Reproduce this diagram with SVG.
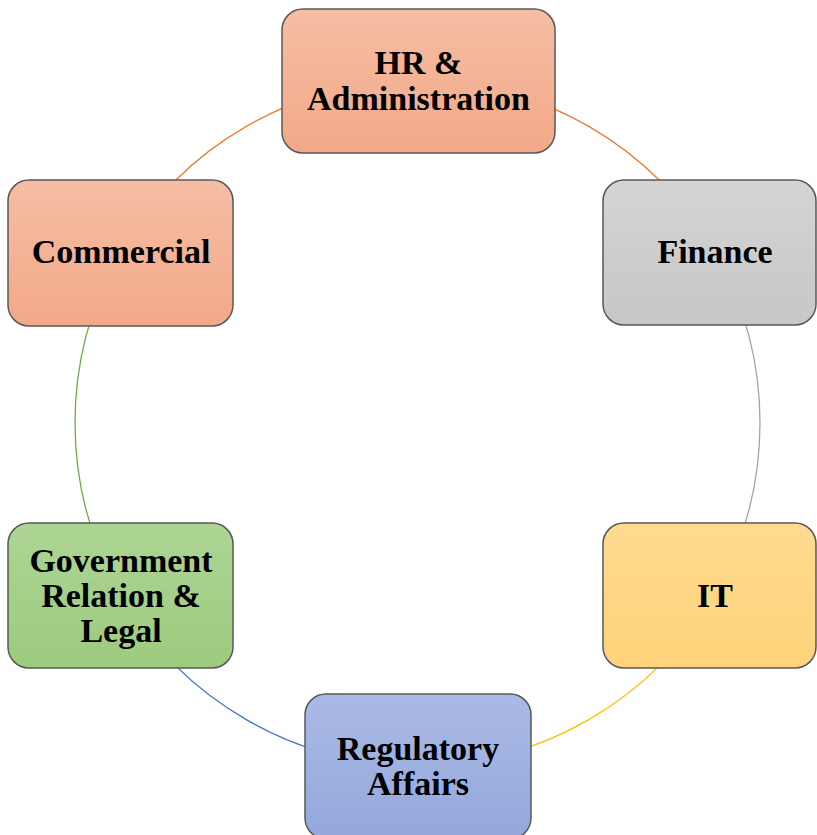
<svg xmlns="http://www.w3.org/2000/svg" width="817" height="835" viewBox="0 0 817 835">
  <defs>
    <linearGradient id="gOrange" x1="0" y1="0" x2="0" y2="1">
      <stop offset="0" stop-color="#F5BEA4"/>
      <stop offset="1" stop-color="#F3A888"/>
    </linearGradient>
    <linearGradient id="gGray" x1="0" y1="0" x2="0" y2="1">
      <stop offset="0" stop-color="#D4D4D4"/>
      <stop offset="1" stop-color="#C7C7C7"/>
    </linearGradient>
    <linearGradient id="gGold" x1="0" y1="0" x2="0" y2="1">
      <stop offset="0" stop-color="#FFDA90"/>
      <stop offset="1" stop-color="#FFD37A"/>
    </linearGradient>
    <linearGradient id="gBlue" x1="0" y1="0" x2="0" y2="1">
      <stop offset="0" stop-color="#AABAE5"/>
      <stop offset="1" stop-color="#94A8DC"/>
    </linearGradient>
    <linearGradient id="gGreen" x1="0" y1="0" x2="0" y2="1">
      <stop offset="0" stop-color="#ADD494"/>
      <stop offset="1" stop-color="#9DCB7E"/>
    </linearGradient>
  </defs>
  <style>
    .box { stroke: #585858; stroke-width: 1.5; }
    .arc { fill: none; stroke-width: 1.3; }
    .lbl { font-family: "Liberation Serif", "Times New Roman", serif; font-weight: bold; font-size: 34px; fill: #000; text-anchor: middle; }
  </style>
  <rect width="817" height="835" fill="#FFFFFF"/>

  <!-- ring of arcs joining neighbouring departments -->
  <g id="connectors">
    <path class="arc" stroke="#ED7D31" d="M417.5 80.5 A342.5 342.5 0 0 1 714.1 251.75"/>
    <path class="arc" stroke="#A5A5A5" d="M714.1 251.75 A342.5 342.5 0 0 1 714.1 594.25"/>
    <path class="arc" stroke="#FFC000" d="M714.1 594.25 A342.5 342.5 0 0 1 417.5 765.5"/>
    <path class="arc" stroke="#4472C4" d="M417.5 765.5 A342.5 342.5 0 0 1 120.9 594.25"/>
    <path class="arc" stroke="#70AD47" d="M120.9 594.25 A342.5 342.5 0 0 1 120.9 251.75"/>
    <path class="arc" stroke="#ED7D31" d="M120.9 251.75 A342.5 342.5 0 0 1 417.5 80.5"/>
  </g>

  <g id="hr-administration">
    <rect class="box" x="282" y="9" width="273" height="144" rx="21" fill="url(#gOrange)"/>
    <text class="lbl" x="418.5" y="74">HR &amp;</text>
    <text class="lbl" x="418.5" y="110">Administration</text>
  </g>

  <g id="finance">
    <rect class="box" x="603" y="180" width="213" height="145" rx="21" fill="url(#gGray)"/>
    <text class="lbl" x="715" y="263">Finance</text>
  </g>

  <g id="it">
    <rect class="box" x="603" y="523" width="213" height="145" rx="21" fill="url(#gGold)"/>
    <text class="lbl" x="715" y="607">IT</text>
  </g>

  <g id="regulatory-affairs">
    <rect class="box" x="305" y="694" width="226" height="145" rx="21" fill="url(#gBlue)"/>
    <text class="lbl" x="418" y="760">Regulatory</text>
    <text class="lbl" x="418" y="795">Affairs</text>
  </g>

  <g id="government-relation-legal">
    <rect class="box" x="8" y="523" width="225" height="145" rx="21" fill="url(#gGreen)"/>
    <text class="lbl" x="121" y="572">Government</text>
    <text class="lbl" x="121" y="607">Relation &amp;</text>
    <text class="lbl" x="121" y="642">Legal</text>
  </g>

  <g id="commercial">
    <rect class="box" x="8" y="180" width="225" height="146" rx="21" fill="url(#gOrange)"/>
    <text class="lbl" x="121" y="263">Commercial</text>
  </g>
</svg>
